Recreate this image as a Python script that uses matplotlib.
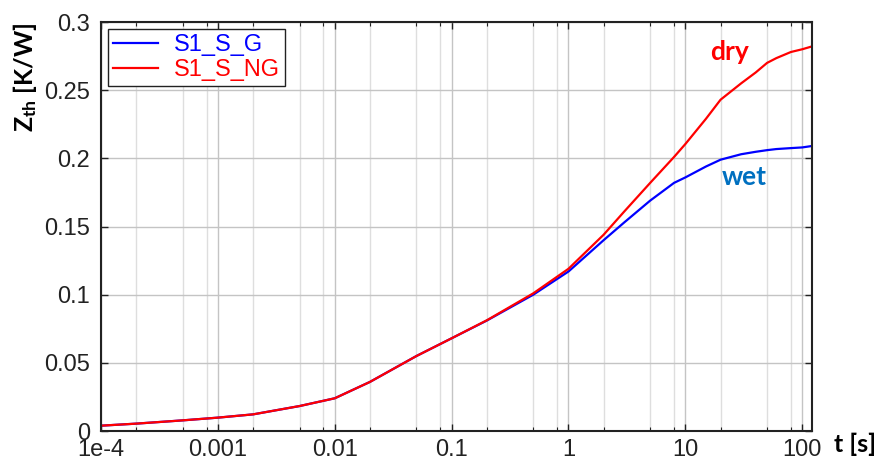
import matplotlib
matplotlib.use("Agg")
import matplotlib.pyplot as plt
from matplotlib.ticker import FixedLocator, NullFormatter

plt.rcParams.update({
    "font.family": "Liberation Sans",
    "mathtext.fontset": "custom",
    "mathtext.rm": "Lato:bold",
    "mathtext.it": "Lato:bold",
    "mathtext.bf": "Lato:bold",
})

# ---- data ----
t = [1e-4, 2e-4, 5e-4, 1e-3, 2e-3, 5e-3, 1e-2, 2e-2, 5e-2, 0.1, 0.2, 0.5,
     1, 2, 3, 5, 8, 10, 15, 20, 30, 40, 50, 60, 80, 100, 120]
z_g = [0.0039, 0.0054, 0.0078, 0.0098, 0.0122, 0.0183, 0.0240, 0.0360,
       0.0550, 0.0680, 0.0810, 0.1000, 0.1170, 0.1400, 0.1530, 0.1690,
       0.1820, 0.1860, 0.1940, 0.1990, 0.2030, 0.2048, 0.2060, 0.2068,
       0.2075, 0.2080, 0.2090]
z_ng = [0.0039, 0.0054, 0.0078, 0.0098, 0.0122, 0.0183, 0.0240, 0.0360,
        0.0550, 0.0680, 0.0812, 0.1010, 0.1190, 0.1440, 0.1610, 0.1820,
        0.2010, 0.2105, 0.2290, 0.2430, 0.2550, 0.2630, 0.2700, 0.2735,
        0.2780, 0.2800, 0.2820]
labels = ["S1_S_G", "S1_S_NG"]
colors = ["#0000FF", "#FF0000"]

xticks = [1e-4, 1e-3, 1e-2, 1e-1, 1, 10, 100]
xticklabels = ["1e-4", "0.001", "0.01", "0.1", "1", "10", "100"]
yticks = [0, 0.05, 0.1, 0.15, 0.2, 0.25, 0.3]
yticklabels = ["0", "0.05", "0.1", "0.15", "0.2", "0.25", "0.3"]
minor_x = [m * 10.0 ** e for e in range(-4, 3) for m in (2, 5, 8)]

fig = plt.figure(figsize=(8.89, 4.66), dpi=100)
ax = fig.add_axes([101 / 889, 35 / 466, 710.5 / 889, 409 / 466])

for z, lab, c in zip([z_g, z_ng], labels, colors):
    ax.plot(t, z, color=c, lw=1.6, label=lab)

ax.set_xscale("log")
ax.set_xlim(1e-4, 120)
ax.set_ylim(0, 0.3)
ax.xaxis.set_major_locator(FixedLocator(xticks))
ax.xaxis.set_minor_locator(FixedLocator(minor_x))
ax.xaxis.set_minor_formatter(NullFormatter())
ax.set_xticklabels(xticklabels)
ax.set_yticks(yticks)
ax.set_yticklabels(yticklabels)

ax.grid(True, which="major", color="#c4c4c4", lw=1.0)
ax.grid(True, which="minor", axis="x", color="#dedede", lw=1.0)
ax.set_axisbelow(True)

ax.tick_params(which="both", direction="in", top=True, right=True,
               labelsize=17, colors="#222222")
ax.tick_params(axis="y", pad=8)
ax.tick_params(axis="x", pad=6)
ax.tick_params(which="major", length=5, width=1.0)
ax.tick_params(which="minor", length=3, width=0.8)
for s in ax.spines.values():
    s.set_linewidth(1.5)
    s.set_color("#222222")

leg = ax.legend(loc="upper left", fontsize=17, frameon=True, fancybox=False,
                edgecolor="#222222", framealpha=1, handlelength=1.9,
                borderpad=0.2, labelspacing=0.15, handletextpad=0.7,
                borderaxespad=0.3)
leg.get_frame().set_linewidth(1.0)
for txt, c in zip(leg.get_texts(), colors):
    txt.set_color(c)

ax.text(24, 0.278, "dry", color="#FF0000", fontsize=19, fontweight="bold",
        family="Lato", ha="center", va="center")
ax.text(31.7, 0.186, "wet", color="#0070C0", fontsize=19, fontweight="bold",
        family="Lato", ha="center", va="center")

fig.text(25 / 889, 1 - 77 / 466, r"Z$_{th}$ [K/W]", rotation=90,
         fontsize=18, fontweight="bold", family="Lato",
         ha="center", va="center")
fig.text(855 / 889, 1 - 444 / 466, "t [s]", fontsize=18, fontweight="bold",
         family="Lato", ha="center", va="center")

fig.savefig("out.png", dpi=100)
